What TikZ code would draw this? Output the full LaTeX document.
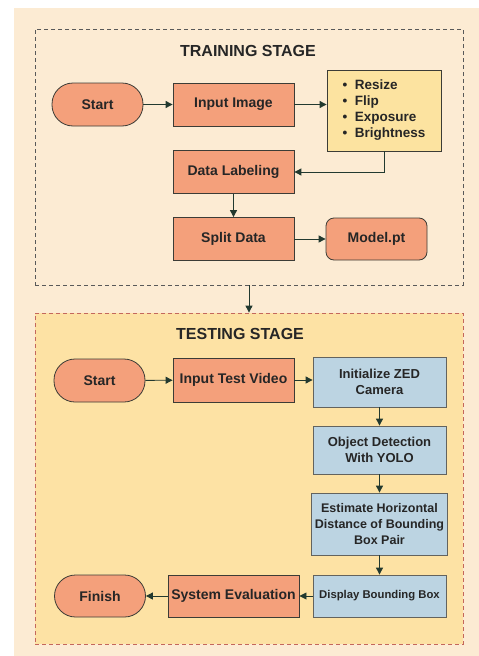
\documentclass[tikz,border=0pt]{standalone}
\usepackage{fontspec}
\setmainfont{Liberation Sans}
\usepackage{xcolor}
\usetikzlibrary{shapes.geometric,positioning,arrows.meta}

\definecolor{pagebg}{HTML}{FCEBD3}
\definecolor{testbg}{HTML}{FDE2A4}
\definecolor{salmon}{HTML}{F4A07B}
\definecolor{augyellow}{HTML}{FCE3A0}
\definecolor{steelblue}{HTML}{BCD4E2}
\definecolor{edgedark}{HTML}{3C3C36}
\definecolor{arrowdark}{HTML}{22392F}
\definecolor{testline}{HTML}{C4675C}

\begin{document}
\begin{tikzpicture}[x=1pt, y=-1pt,
  stage/.style={draw, dashed, dash pattern=on 4pt off 3pt, line width=0.8pt},
  title/.style={font=\fontsize{16}{18}\selectfont\bfseries, text=black!85},
  terminal/.style={draw=edgedark, rectangle, rounded corners=21pt, fill=salmon, line width=0.8pt, minimum width=91pt, minimum height=43pt, font=\fontsize{14}{16}\selectfont\bfseries, text=black!85},
  process/.style={draw=edgedark, rectangle, fill=salmon, line width=0.8pt, minimum width=121pt, minimum height=43pt, font=\fontsize{14}{16}\selectfont\bfseries, text=black!85},
  camstep/.style={draw=edgedark!80, rectangle, fill=steelblue, line width=0.8pt, minimum width=133pt, align=center, font=\fontsize{13}{16}\selectfont\bfseries, text=black!85},
  flow/.style={-{Triangle[length=7pt,width=7pt]}, arrowdark, line width=0.9pt},
]
  \useasboundingbox (0,0) rectangle (479,656);
  \fill[pagebg] (14,8) rectangle (479,656);

  % Stages
  \node[stage, draw=black!65, minimum width=428pt, minimum height=256pt] (train) at (249,157) {};
  \node[stage, draw=testline, fill=testbg, minimum width=428pt, minimum height=331pt] (test) at (249,478.5) {};
  \node[title] (traintitle) at (248,51) {TRAINING STAGE};
  \node[title] (testtitle) at (240,334) {TESTING STAGE};

  % Training stage
  \node[terminal] (trstart) at (97.5,104.5) {Start};
  \node[process] (inimg) at (233.5,104.5) {Input Image};
  \node[draw=edgedark, rectangle, fill=augyellow, line width=0.8pt, minimum width=114pt, minimum height=81pt, align=left, font=\fontsize{13.5}{16}\selectfont\bfseries, text=black!85] (augment) at (384,110.5)
    {\textbullet\ \ Resize\\\textbullet\ \ Flip\\\textbullet\ \ Exposure\\\textbullet\ \ Brightness};
  \node[process] (labeling) at (233.5,172) {Data Labeling};
  \node[process] (split) at (233.5,239) {Split Data};
  \node[terminal, rounded corners=8pt, minimum width=101pt, minimum height=42pt] (model) at (376.5,239) {Model.pt};

  \draw[flow] (trstart) -- (inimg);
  \draw[flow] (inimg.east) -- (inimg.east -| augment.west);
  \draw[flow] (augment.south) |- (labeling.east);
  \draw[flow] (labeling) -- (split);
  \draw[flow] (split) -- (model);

  \draw[flow] (train.south) -- (test.north);

  % Testing stage
  \node[terminal] (tsstart) at (99.5,380.5) {Start};
  \node[process, minimum height=44pt] (invideo) at (233.5,380) {Input Test Video};
  \node[camstep, minimum height=50pt] (zed) at (379.5,382) {Initialize ZED\\Camera};
  \node[camstep, minimum height=48pt] (detect) at (379.5,450) {Object Detection\\With YOLO};
  \node[camstep, minimum height=62pt, font=\fontsize{12.5}{16}\selectfont\bfseries] (estimate) at (379.5,524) {Estimate Horizontal\\Distance of Bounding\\Box Pair};
  \node[camstep, minimum height=42pt, font=\fontsize{11.3}{14}\selectfont\bfseries] (display) at (379.5,596) {Display Bounding Box};
  \node[process, minimum height=42pt] (syseval) at (233.5,596) {System Evaluation};
  \node[terminal, minimum height=42pt] (finish) at (100,596) {Finish};

  \draw[flow] (tsstart) -- (invideo);
  \draw[flow] (invideo.east) -- (invideo.east -| zed.west);
  \draw[flow] (zed) -- (detect);
  \draw[flow] (detect) -- (estimate);
  \draw[flow] (estimate) -- (display);
  \draw[flow] (display) -- (syseval);
  \draw[flow] (syseval) -- (finish);
\end{tikzpicture}
\end{document}
